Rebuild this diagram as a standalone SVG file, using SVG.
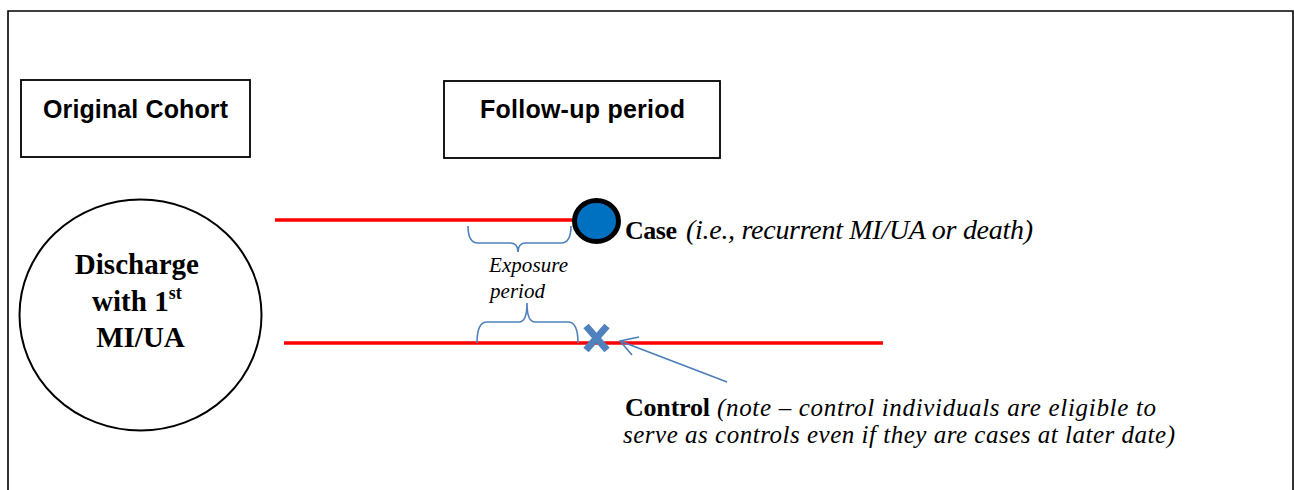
<svg xmlns="http://www.w3.org/2000/svg" width="1294" height="490" viewBox="0 0 1294 490">
<style>
.frame{fill:none;stroke:#000;stroke-width:1.6}
.box{fill:#fff;stroke:#000;stroke-width:1.8}
.hdr{font-family:"Liberation Sans",Arial,sans-serif;font-weight:bold;font-size:25px;fill:#000}
.serif{font-family:"Liberation Serif","Times New Roman",serif;fill:#000}
.b{font-weight:bold}
.i{font-style:italic}
.red{stroke:#FF0000;stroke-width:3.5;fill:none}
.brace{stroke:#4F81BD;stroke-width:1.6;fill:none}
.arrow{stroke:#4A7EBB;stroke-width:1.6;fill:none}
</style>
<rect width="1294" height="490" fill="#fff"/>
<path class="frame" d="M8,492 V11 H1293 V492"/>

<g id="original-cohort">
<rect class="box" x="21" y="80" width="229" height="77"/>
<text class="hdr" x="135.5" y="118" text-anchor="middle" textLength="185">Original Cohort</text>
</g>

<g id="follow-up">
<rect class="box" x="444" y="81" width="276" height="77"/>
<text class="hdr" x="582.5" y="118" text-anchor="middle" textLength="205">Follow-up period</text>
</g>

<g id="discharge">
<ellipse cx="140.5" cy="315" rx="121" ry="115.5" fill="#fff" stroke="#000" stroke-width="2"/>
<text class="serif b" font-size="29" text-anchor="middle">
<tspan x="140.5" y="274">Discharge</tspan>
<tspan x="140.5" y="311">with 1<tspan font-size="18" dy="-12">st</tspan></tspan>
<tspan x="140.5" y="347">MI/UA</tspan>
</text>
</g>

<g id="connectors">
<line class="red" x1="275" y1="220" x2="574" y2="220"/>
<line class="red" x1="284" y1="343" x2="883" y2="343"/>
<path class="brace" d="M468,226 Q468,243 478,243 L510,243 Q518,243 518,252 Q518,243 526,243 L561,243 Q571,243 571,226"/>
<path class="brace" d="M477,343 Q477,322 487,322 L519,322 Q527,322 527,303 Q527,322 535,322 L568,322 Q578,322 578,343"/>
<line class="arrow" x1="727" y1="382" x2="620" y2="341"/>
<polyline class="arrow" points="639,337 620,341 632,355"/>
</g>

<g id="case">
<ellipse cx="596.5" cy="221" rx="22" ry="20.5" fill="#0070C0" stroke="#000" stroke-width="5"/>
<text class="serif" y="239"><tspan class="b" x="625" font-size="26" textLength="52">Case</tspan><tspan class="i" x="686" font-size="28" textLength="347">(i.e., recurrent MI/UA or death)</tspan></text>
</g>

<g id="exposure">
<text class="serif i" font-size="21">
<tspan x="489" y="272" textLength="79">Exposure</tspan>
<tspan x="490" y="298" textLength="55">period</tspan>
</text>
</g>

<g id="control">
<path d="M586,326 L607,350 M607,326 L586,350" stroke="#4F81BD" stroke-width="7" stroke-linecap="butt"/>
<text class="serif" font-size="25"><tspan class="b" x="625" y="416" font-size="26" textLength="85">Control</tspan><tspan class="i" x="717" y="416" textLength="439">(note – control individuals are eligible to</tspan><tspan class="i" x="623" y="443" textLength="552">serve as controls even if they are cases at later date)</tspan></text>
</g>
</svg>
